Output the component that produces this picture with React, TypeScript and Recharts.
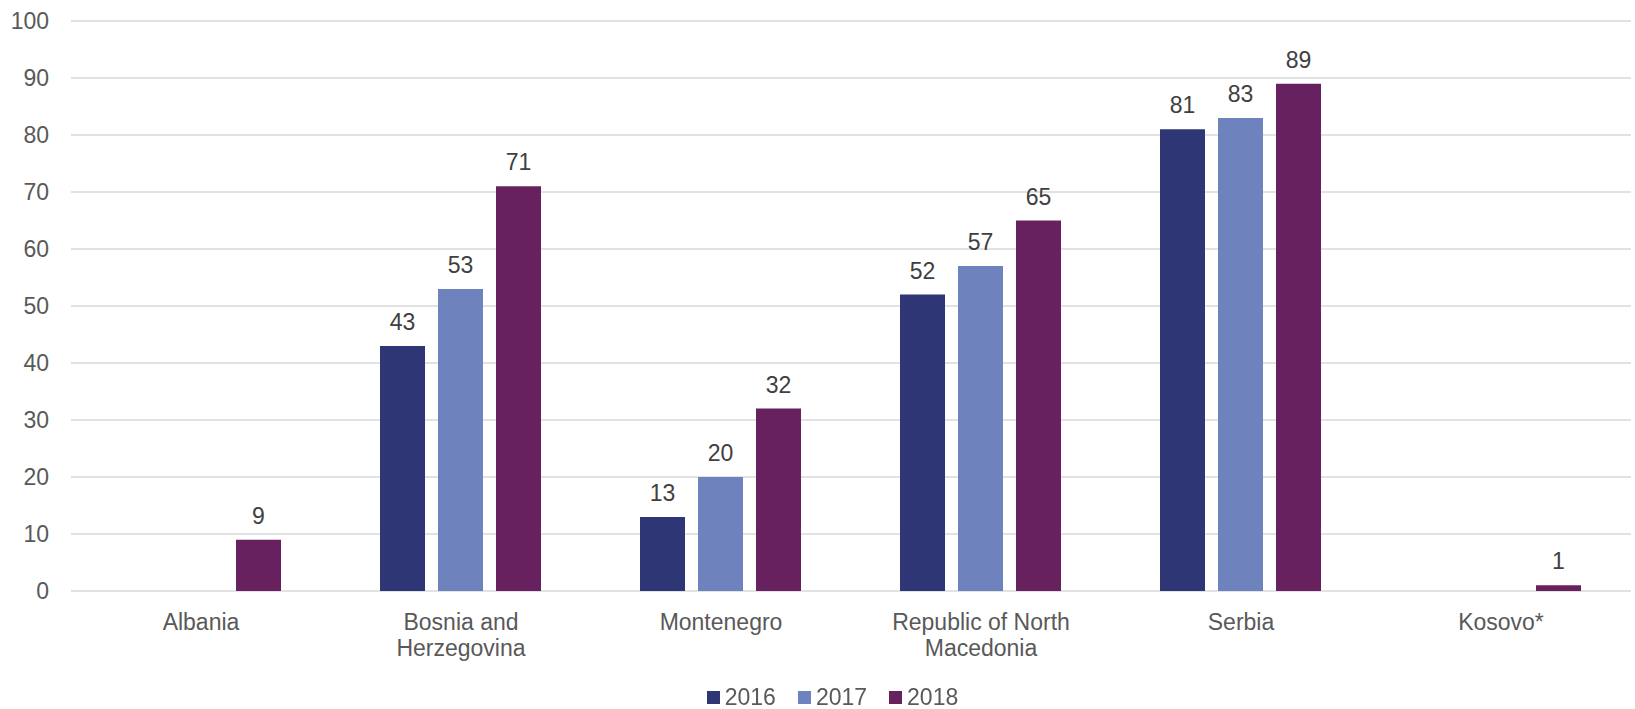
import React from "react";
import { Bar, BarChart, CartesianGrid, LabelList, Legend, XAxis, YAxis } from "recharts";

const countries = [
  "Albania",
  "Bosnia and Herzegovina",
  "Montenegro",
  "Republic of North Macedonia",
  "Serbia",
  "Kosovo*",
];
const tickLines: string[][] = [
  ["Albania"],
  ["Bosnia and", "Herzegovina"],
  ["Montenegro"],
  ["Republic of North", "Macedonia"],
  ["Serbia"],
  ["Kosovo*"],
];
const values2016 = [null, 43, 13, 52, 81, null];
const values2017 = [null, 53, 20, 57, 83, null];
const values2018 = [9, 71, 32, 65, 89, 1];
const yTicks = [0, 10, 20, 30, 40, 50, 60, 70, 80, 90, 100];

const series = [
  { key: "y2016", name: "2016", color: "#2e3676" },
  { key: "y2017", name: "2017", color: "#6e83bd" },
  { key: "y2018", name: "2018", color: "#68215f" },
];

const data = countries.map((c, i) => ({
  country: c,
  y2016: values2016[i],
  y2017: values2017[i],
  y2018: values2018[i],
}));

const FONT = "Arial, 'Liberation Sans', sans-serif";

function CountryTick(props: any) {
  const { x, y, payload } = props;
  const lines = tickLines[payload.index] || [payload.value];
  return (
    <text x={x} y={y} textAnchor="middle" fill="#595959" fontSize={23} fontFamily={FONT}>
      {lines.map((l, i) => (
        <tspan key={i} x={x} dy={i === 0 ? 39 : 26}>
          {l}
        </tspan>
      ))}
    </text>
  );
}

function LegendBox() {
  return (
    <div
      style={{
        display: "flex",
        justifyContent: "center",
        alignItems: "center",
        height: 24,
        fontFamily: FONT,
        fontSize: 23,
        color: "#595959",
        marginLeft: 56,
      }}
    >
      {series.map((s) => (
        <span key={s.key} style={{ display: "flex", alignItems: "center", marginRight: 22 }}>
          <span style={{ width: 13, height: 13, background: s.color, display: "inline-block", marginRight: 5 }} />
          {s.name}
        </span>
      ))}
    </div>
  );
}

export default function App() {
  return (
    <div style={{ position: "fixed", left: 0, top: 0, background: "#fff" }}>
      <BarChart
        width={1635}
        height={709}
        data={data}
        margin={{ top: 21, right: 4, left: 0, bottom: 0 }}
        barCategoryGap={49}
        barGap={13}
      >
        <CartesianGrid vertical={false} stroke="#d9d9d9" strokeWidth={1.5} />
        <XAxis
          dataKey="country"
          axisLine={false}
          tickLine={false}
          tickSize={0}
          tickMargin={0}
          height={94}
          interval={0}
          tick={<CountryTick />}
        />
        <YAxis
          domain={[0, 100]}
          ticks={yTicks}
          width={71}
          axisLine={false}
          tickLine={false}
          tickSize={0}
          tickMargin={22}
          tick={{ fill: "#595959", fontSize: 23, fontFamily: FONT }}
        />
        <Legend verticalAlign="bottom" content={<LegendBox />} />
        {series.map((s) => (
          <Bar key={s.key} dataKey={s.key} name={s.name} fill={s.color} isAnimationActive={false}>
            <LabelList
              dataKey={s.key}
              position="top"
              offset={16}
              fill="#404040"
              fontSize={23}
              fontFamily={FONT}
            />
          </Bar>
        ))}
      </BarChart>
    </div>
  );
}
